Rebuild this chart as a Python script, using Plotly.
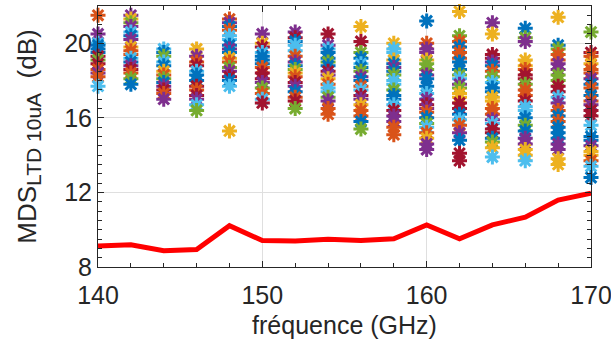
import plotly.graph_objects as go

# frequencies (GHz)
freqs = [140, 142, 144, 146, 148, 150, 152, 154, 156, 158, 160, 162, 164, 166, 168, 170]

# MDS values per frequency (dB) and colour codes (MATLAB default order)
v140 = [21.5, 20.5, 20.0, 19.9, 19.7, 19.5, 19.3, 19.1, 18.9, 18.6, 18.4, 18.2, 17.7]
c140 = "OPLBBBRGROPOL"
v142 = [21.5, 21.3, 21.1, 20.9, 20.6, 20.4, 20.2, 19.8, 19.6, 19.4, 19.2, 19.0, 18.8, 18.6, 18.4, 18.1, 17.8]
c142 = "PYGPLBPYOOLBPROGB"
v144 = [19.7, 19.5, 19.3, 19.0, 18.8, 18.5, 18.3, 18.1, 17.9, 17.7, 17.5, 17.3, 17.0]
c144 = "LBGLBYOGBPROP"
v146 = [19.7, 19.3, 19.0, 18.8, 18.5, 18.3, 18.0, 17.7, 17.5, 17.2, 17.0, 16.7, 16.4]
c146 = "YPORLBBRORPLG"
v148 = [21.3, 21.1, 20.9, 20.7, 20.4, 20.2, 19.9, 19.7, 19.5, 19.2, 19.0, 18.7, 18.5, 18.2, 18.0, 17.7, 15.3]
c148 = "OPBOLLBPBYOGPRBLY"
v150 = [20.5, 20.0, 19.8, 19.5, 19.3, 19.1, 18.9, 18.7, 18.4, 18.1, 17.9, 17.6, 17.3, 17.0, 16.8]
c150 = "PYRLBBBORRPGOLR"
v152 = [20.6, 20.3, 20.1, 19.9, 19.6, 19.3, 19.0, 18.8, 18.6, 18.4, 18.2, 17.9, 17.7, 17.4, 17.1, 16.9, 16.5]
c152 = "PRBLLOPBGYORPBORG"
v154 = [20.5, 19.9, 19.7, 19.5, 19.2, 19.0, 18.8, 18.5, 18.3, 18.1, 17.8, 17.6, 17.4, 17.1, 16.9, 16.5, 16.2]
c154 = "RPLBBGBRPYOLLGPOO"
v156 = [20.9, 20.1, 19.5, 19.2, 18.9, 18.7, 18.5, 18.2, 18.0, 17.7, 17.5, 17.2, 17.0, 16.7, 16.4, 16.1, 15.8, 15.4]
c156 = "YRGBLBGPBOLRPYOOBG"
v158 = [20.0, 19.7, 19.5, 19.1, 18.9, 18.7, 18.5, 18.3, 18.0, 17.8, 17.5, 17.2, 17.0, 16.7, 16.4, 16.1, 15.8, 15.5, 15.1]
c158 = "YLLYBPBGLLGBBLRPPOO"
v160 = [21.2, 20.0, 19.7, 19.5, 19.1, 18.9, 18.6, 18.3, 18.1, 17.7, 17.3, 17.0, 16.7, 16.5, 16.3, 16.0, 15.7, 15.5, 15.2, 14.9, 14.6, 14.3]
c160 = "BOPPYGGPBBLPRPOBGLOYPP"
v162 = [21.7, 20.4, 20.1, 19.8, 19.5, 19.2, 19.0, 18.6, 18.3, 18.1, 17.8, 17.6, 17.3, 17.1, 16.8, 16.5, 16.2, 15.9, 15.6, 15.2, 14.8, 14.1, 13.7]
c162 = "YGOBOOBBGLPGYYRRBLOPBRR"
v164 = [21.1, 20.5, 19.4, 19.2, 19.0, 18.8, 18.5, 18.2, 17.9, 17.6, 17.4, 17.1, 16.9, 16.5, 16.2, 15.9, 15.7, 15.4, 15.2, 14.9, 14.7, 14.4, 13.9]
c164 = "PYRRPBOGLBBYYOOPLRRBGYL"
v166 = [20.8, 20.3, 20.1, 19.1, 18.8, 18.6, 18.3, 18.1, 17.8, 17.5, 17.2, 16.9, 16.6, 16.4, 16.0, 15.6, 15.3, 14.9, 14.6, 14.3, 14.0, 13.7]
c166 = "BGPYYORRGOORLLBGBPPYYL"
v168 = [21.4, 19.9, 19.7, 19.4, 19.1, 18.9, 18.6, 18.3, 18.0, 17.7, 17.4, 17.1, 16.8, 16.4, 16.1, 15.8, 15.5, 15.2, 14.9, 14.6, 14.3, 13.8, 13.5]
c168 = "YBGOOPPGGRRLPOBOBBBPPYY"
v170 = [20.6, 19.5, 19.3, 18.9, 18.6, 18.4, 18.1, 17.8, 17.6, 17.2, 16.9, 16.7, 16.4, 16.1, 15.6, 15.0, 14.8, 14.5, 14.2, 14.0, 13.7, 13.4, 12.8]
c170 = "GROYOOPBOBOPRRLBBPYYOLB"

# reference (red) curve
mds_ref = [9.12, 9.19, 8.87, 8.94, 10.22, 9.42, 9.40, 9.49, 9.42, 9.51, 10.26, 9.51, 10.26, 10.67, 11.59, 11.96]

palette = {"B": "#0072BD", "O": "#D95319", "Y": "#EDB120", "P": "#7E2F8E",
           "G": "#77AC30", "L": "#4DBEEE", "R": "#A2142F"}

values = [v140, v142, v144, v146, v148, v150, v152, v154, v156, v158, v160, v162, v164, v166, v168, v170]
codes = [c140, c142, c144, c146, c148, c150, c152, c154, c156, c158, c160, c162, c164, c166, c168, c170]

xs, ys, cs = [], [], []
for f, vals, cc in zip(freqs, values, codes):
    for v, c in zip(vals, cc):
        xs.append(f)
        ys.append(v)
        cs.append(palette[c])

FONT = "Liberation Sans, Arial"
TXT = "#262626"

fig = go.Figure()
fig.add_trace(go.Scatter(
    x=xs, y=ys, mode="markers", showlegend=False, cliponaxis=False,
    marker=dict(symbol="asterisk-open", size=12.5, color=cs,
                line=dict(width=3, color=cs)),
))
fig.add_trace(go.Scatter(
    x=freqs, y=mds_ref, mode="lines", showlegend=False,
    line=dict(color="#FF0000", width=5),
))

axis_common = dict(
    showline=True, linecolor=TXT, linewidth=1, mirror="ticks",
    ticks="inside", tickcolor=TXT, ticklen=6, tickwidth=1,
    showgrid=True, gridcolor="#DFDFDF", gridwidth=1, zeroline=False,
    automargin=False, ticklabeloverflow="allow",
    tickfont=dict(family=FONT, size=25, color=TXT),
)

fig.update_layout(
    width=611, height=350, autosize=False,
    margin=dict(l=98, r=20, t=6, b=83),
    plot_bgcolor="white", paper_bgcolor="white",
    xaxis=dict(range=[140, 170], tickvals=[140, 150, 160, 170],
               ticklabelstandoff=6,
               minor=dict(dtick=2, ticks="inside", ticklen=4, tickcolor=TXT, showgrid=False),
               title=dict(text="fréquence (GHz)", standoff=8,
                          font=dict(family=FONT, size=25, color=TXT)),
               **axis_common),
    yaxis=dict(range=[8, 22], tickvals=[8, 12, 16, 20],
               minor=dict(dtick=0.5, ticks="inside", ticklen=4, tickcolor=TXT, showgrid=False),
               title=dict(text='MDS<sub><span style="font-size:21px">LTD 10uA</span></sub>&nbsp;&nbsp;(dB)',
                          standoff=20,
                          font=dict(family=FONT, size=26, color=TXT)),
               **axis_common),
)

fig.write_html("out.html", config={"displayModeBar": False},
               post_script="document.body.style.margin='0';")
